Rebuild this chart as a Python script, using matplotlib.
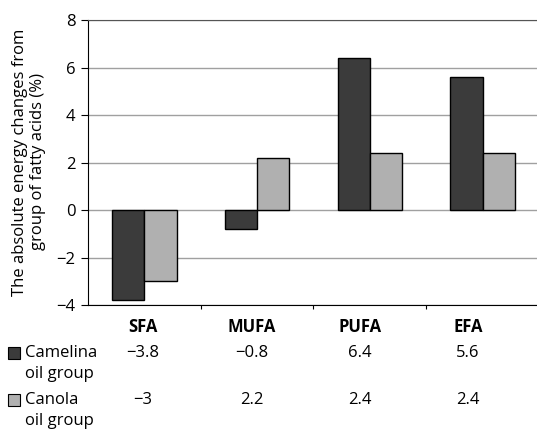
import matplotlib
matplotlib.use("Agg")
import matplotlib.pyplot as plt
from matplotlib.patches import Rectangle
import numpy as np

categories = ["SFA", "MUFA", "PUFA", "EFA"]
camelina = [-3.8, -0.8, 6.4, 5.6]
canola = [-3, 2.2, 2.4, 2.4]
camelina_labels = ["\u22123.8", "\u22120.8", "6.4", "5.6"]
canola_labels = ["\u22123", "2.2", "2.4", "2.4"]
series_names = ["Camelina\noil group", "Canola\noil group"]
yticks = [-4, -2, 0, 2, 4, 6, 8]

plt.rcParams['font.family'] = ['Open Sans', 'DejaVu Sans']

W, H = 537, 430
FS = 12
fig = plt.figure(figsize=(W/100, H/100), dpi=100)
ax = fig.add_axes([88/W, 1-305/H, (539-88)/W, 285/H])

x = np.arange(len(categories))
bw = 0.285
dark = "#3b3b3b"
light = "#b0b0b0"
ax.bar(x - bw/2, camelina, bw, color=dark, edgecolor="black", linewidth=1, zorder=3)
ax.bar(x + bw/2, canola, bw, color=light, edgecolor="black", linewidth=1, zorder=3)

ax.set_xlim(-0.5, 3.5)
ax.set_ylim(-4, 8)
ax.set_yticks(yticks)
ax.set_yticklabels([("\u2212%d" % -v) if v < 0 else str(v) for v in yticks], fontsize=FS)
ax.yaxis.grid(True, color="#a0a0a0", linewidth=1, zorder=0)
ax.set_axisbelow(True)
ax.set_xticks([0.5, 1.5, 2.5, 3.5])
ax.set_xticklabels([])
ax.tick_params(axis='x', length=3, color="black")
ax.tick_params(axis='y', length=5, color="black", pad=4)
ax.spines["right"].set_visible(False)
ax.spines["top"].set_color("#555555")
ax.spines["left"].set_color("black")
ax.spines["bottom"].set_color("black")

fig.text(29/W, 1-162/H, "The absolute energy changes from\ngroup of fatty acids (%)",
         rotation=90, ha="center", va="center", multialignment="center",
         fontsize=FS, linespacing=1.2)

# table below the chart
col_x = [143, 252, 360, 468]
for cx, c in zip(col_x, categories):
    fig.text(cx/W, 1-327/H, c, ha="center", va="center", fontsize=FS, fontweight="bold")
for cx, t in zip(col_x, camelina_labels):
    fig.text(cx/W, 1-353/H, t, ha="center", va="center", fontsize=FS)
for cx, t in zip(col_x, canola_labels):
    fig.text(cx/W, 1-400/H, t, ha="center", va="center", fontsize=FS)

for yc, name, col in [(353, series_names[0], dark), (400, series_names[1], light)]:
    fig.patches.append(Rectangle((8/W, 1-(yc+6)/H), 12/W, 12/H, transform=fig.transFigure,
                                 facecolor=col, edgecolor="black", linewidth=0.8))
    fig.text(25/W, 1-(yc-8)/H, name, ha="left", va="top", fontsize=FS, linespacing=1.45)

fig.savefig("out.png", dpi=100)
